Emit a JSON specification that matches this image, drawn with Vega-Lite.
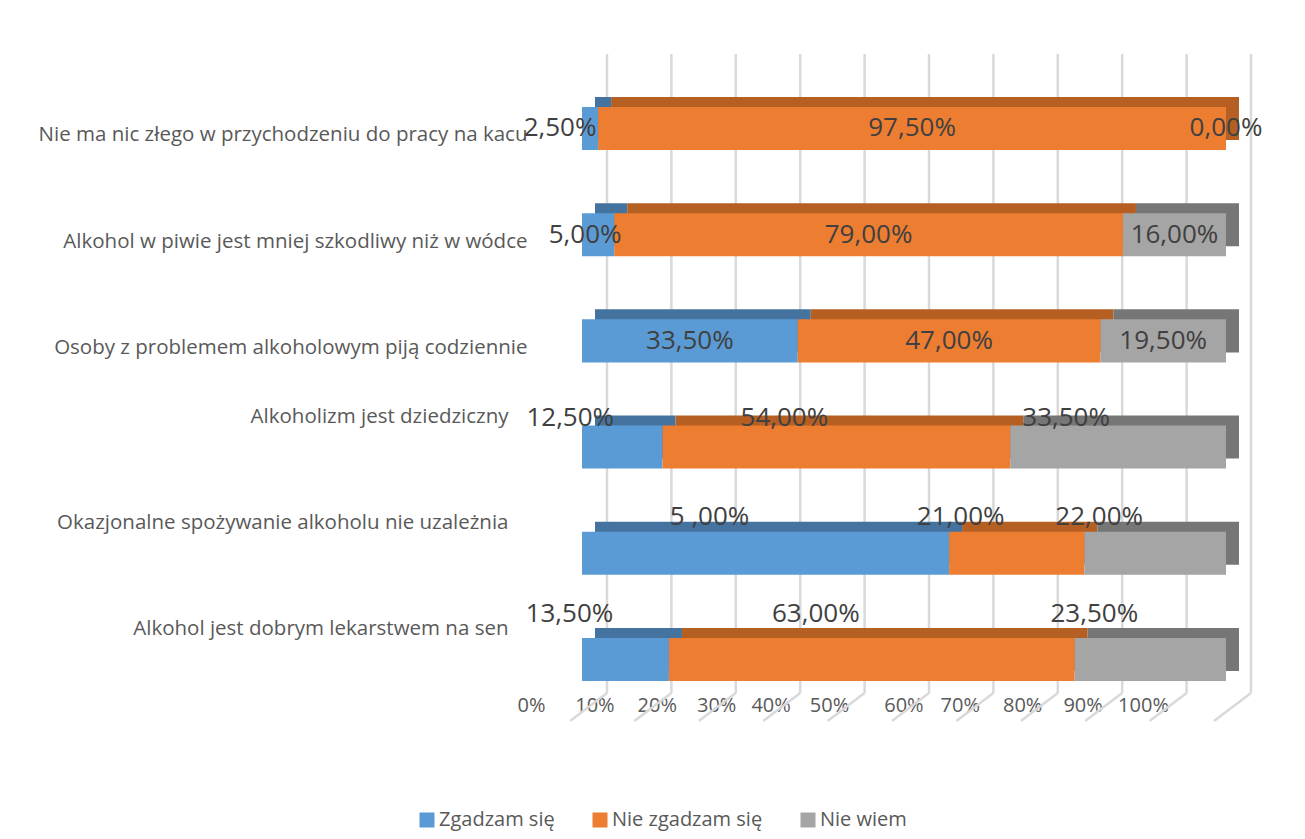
{
  "$schema": "https://vega.github.io/schema/vega-lite/v6.json",
  "autosize": "none",
  "padding": {"top": 54, "left": 582, "right": 79, "bottom": 146},
  "width": 644,
  "height": 639,
  "background": "white",
  "config": {
    "view": {"stroke": null},
    "font": "Open Sans",
    "axis": {"grid": false, "ticks": false, "domain": false, "labelColor": "#595959", "labelFontSize": 20, "labelFont": "Open Sans"},
    "text": {"fontSize": 26, "color": "#404040", "font": "Open Sans"}
  },
  "datasets": {
    "bars": [
      {"q": "Nie ma nic złego w przychodzeniu do pracy na kacu", "s": "Zgadzam się", "k": 1, "v": 2.5, "lab": "2,50%"},
      {"q": "Nie ma nic złego w przychodzeniu do pracy na kacu", "s": "Nie zgadzam się", "k": 2, "v": 97.5, "lab": "97,50%"},
      {"q": "Nie ma nic złego w przychodzeniu do pracy na kacu", "s": "Nie wiem", "k": 3, "v": 0, "lab": "0,00%"},
      {"q": "Alkohol w piwie jest mniej szkodliwy niż w wódce", "s": "Zgadzam się", "k": 1, "v": 5, "lab": "5,00%"},
      {"q": "Alkohol w piwie jest mniej szkodliwy niż w wódce", "s": "Nie zgadzam się", "k": 2, "v": 79, "lab": "79,00%"},
      {"q": "Alkohol w piwie jest mniej szkodliwy niż w wódce", "s": "Nie wiem", "k": 3, "v": 16, "lab": "16,00%"},
      {"q": "Osoby z problemem alkoholowym piją codziennie", "s": "Zgadzam się", "k": 1, "v": 33.5, "lab": "33,50%"},
      {"q": "Osoby z problemem alkoholowym piją codziennie", "s": "Nie zgadzam się", "k": 2, "v": 47, "lab": "47,00%"},
      {"q": "Osoby z problemem alkoholowym piją codziennie", "s": "Nie wiem", "k": 3, "v": 19.5, "lab": "19,50%"},
      {"q": "Alkoholizm jest dziedziczny", "s": "Zgadzam się", "k": 1, "v": 12.5, "lab": "12,50%"},
      {"q": "Alkoholizm jest dziedziczny", "s": "Nie zgadzam się", "k": 2, "v": 54, "lab": "54,00%"},
      {"q": "Alkoholizm jest dziedziczny", "s": "Nie wiem", "k": 3, "v": 33.5, "lab": "33,50%"},
      {"q": "Okazjonalne spożywanie alkoholu nie uzależnia", "s": "Zgadzam się", "k": 1, "v": 57, "lab": "5 ,00%"},
      {"q": "Okazjonalne spożywanie alkoholu nie uzależnia", "s": "Nie zgadzam się", "k": 2, "v": 21, "lab": "21,00%"},
      {"q": "Okazjonalne spożywanie alkoholu nie uzależnia", "s": "Nie wiem", "k": 3, "v": 22, "lab": "22,00%"},
      {"q": "Alkohol jest dobrym lekarstwem na sen", "s": "Zgadzam się", "k": 1, "v": 13.5, "lab": "13,50%"},
      {"q": "Alkohol jest dobrym lekarstwem na sen", "s": "Nie zgadzam się", "k": 2, "v": 63, "lab": "63,00%"},
      {"q": "Alkohol jest dobrym lekarstwem na sen", "s": "Nie wiem", "k": 3, "v": 23.5, "lab": "23,50%"}
    ],
    "grid": [{"v": 0}, {"v": 10}, {"v": 20}, {"v": 30}, {"v": 40}, {"v": 50}, {"v": 60}, {"v": 70}, {"v": 80}, {"v": 90}, {"v": 100}]
  },
  "layer": [
    {
      "data": {"name": "grid"},
      "mark": {"type": "rule", "color": "#D9D9D9", "strokeWidth": 2.5, "xOffset": 25},
      "encoding": {
        "x": {"field": "v", "type": "quantitative", "title": null, "scale": {"domain": [0, 100], "nice": false},
          "axis": {"values": [0, 10, 20, 30, 40, 50, 60, 70, 80, 90, 100], "labelExpr": "datum.value + '%'", "labelPadding": 2, "labelOverlap": false, "labelFlush": false,
            "labelOffset": {"condition": [
              {"test": "datum.value == 0", "value": -51},
              {"test": "datum.value == 10", "value": -52},
              {"test": "datum.value == 20", "value": -54},
              {"test": "datum.value == 30", "value": -59},
              {"test": "datum.value == 40", "value": -69},
              {"test": "datum.value == 50", "value": -75},
              {"test": "datum.value == 60", "value": -65},
              {"test": "datum.value == 70", "value": -73},
              {"test": "datum.value == 80", "value": -75},
              {"test": "datum.value == 90", "value": -79}
            ], "value": -83}}}
      }
    },
    {
      "data": {"name": "grid"},
      "mark": {"type": "rule", "color": "#D9D9D9", "strokeWidth": 2.5, "xOffset": 25, "x2Offset": -12},
      "encoding": {
        "x": {"field": "v", "type": "quantitative", "title": null},
        "x2": {"field": "v"},
        "y": {"value": {"expr": "height"}},
        "y2": {"value": {"expr": "height + 28"}}
      }
    },
    {
      "data": {"name": "bars"},
      "mark": {"type": "bar", "xOffset": 13, "x2Offset": 13, "yOffset": -10},
      "encoding": {
        "y": {"field": "q", "type": "nominal", "title": null, "sort": ["Nie ma nic złego w przychodzeniu do pracy na kacu", "Alkohol w piwie jest mniej szkodliwy niż w wódce", "Osoby z problemem alkoholowym piją codziennie", "Alkoholizm jest dziedziczny", "Okazjonalne spożywanie alkoholu nie uzależnia", "Alkohol jest dobrym lekarstwem na sen"],
          "scale": {"paddingInner": 0.595, "paddingOuter": 0.306, "align": 0.815}},
        "x": {"field": "v", "type": "quantitative", "stack": "zero", "title": null},
        "order": {"field": "k", "type": "quantitative"},
        "fill": {"field": "k", "type": "nominal", "legend": null,
          "scale": {"domain": [1, 2, 3], "range": ["#44739F", "#B65F22", "#767676"]}}
      }
    },
    {
      "data": {"name": "bars"},
      "mark": {"type": "bar"},
      "encoding": {
        "y": {"field": "q", "type": "nominal", "title": null, "sort": ["Nie ma nic złego w przychodzeniu do pracy na kacu", "Alkohol w piwie jest mniej szkodliwy niż w wódce", "Osoby z problemem alkoholowym piją codziennie", "Alkoholizm jest dziedziczny", "Okazjonalne spożywanie alkoholu nie uzależnia", "Alkohol jest dobrym lekarstwem na sen"],
          "axis": {
            "labelFontSize": 20.5,
            "labelOffset": {"condition": {"test": "indexof(['Alkoholizm jest dziedziczny','Okazjonalne spożywanie alkoholu nie uzależnia','Alkohol jest dobrym lekarstwem na sen'], datum.value) >= 0", "value": -30}, "value": 7},
            "labelPadding": {"condition": {"test": "indexof(['Alkoholizm jest dziedziczny','Okazjonalne spożywanie alkoholu nie uzależnia','Alkohol jest dobrym lekarstwem na sen'], datum.value) >= 0", "value": 74}, "value": 55},
            "labelLimit": 600
          }},
        "x": {"field": "v", "type": "quantitative", "stack": "zero", "title": null},
        "order": {"field": "k", "type": "quantitative"},
        "color": {"field": "s", "type": "nominal",
          "scale": {"domain": ["Zgadzam się", "Nie zgadzam się", "Nie wiem"], "range": ["#5B9BD5", "#ED7D31", "#A5A5A5"]},
          "legend": {"orient": "none", "legendX": -165, "legendY": 756, "direction": "horizontal", "title": null,
            "symbolType": "square", "symbolSize": 225, "symbolStrokeWidth": 0, "labelFontSize": 20, "labelColor": "#595959",
            "labelFont": "Open Sans", "columnPadding": 35, "labelOffset": 2, "padding": 0}}
      }
    },
    {
      "data": {"name": "bars"},
      "mark": {"type": "text"},
      "encoding": {
        "y": {"field": "q", "type": "nominal", "title": null, "sort": ["Nie ma nic złego w przychodzeniu do pracy na kacu", "Alkohol w piwie jest mniej szkodliwy niż w wódce", "Osoby z problemem alkoholowym piją codziennie", "Alkoholizm jest dziedziczny", "Okazjonalne spożywanie alkoholu nie uzależnia", "Alkohol jest dobrym lekarstwem na sen"]},
        "x": {"field": "v", "type": "quantitative", "stack": "zero", "bandPosition": 0.5, "title": null},
        "order": {"field": "k", "type": "quantitative"},
        "text": {"condition": {"test": "datum.q == 'Osoby z problemem alkoholowym piją codziennie' || (datum.k > 1 && (datum.q == 'Nie ma nic złego w przychodzeniu do pracy na kacu' || datum.q == 'Alkohol w piwie jest mniej szkodliwy niż w wódce'))", "field": "lab"}, "value": ""}
      }
    },
    {
      "data": {"name": "bars"},
      "mark": {"type": "text", "dx": -30},
      "encoding": {
        "y": {"field": "q", "type": "nominal", "title": null, "sort": ["Nie ma nic złego w przychodzeniu do pracy na kacu", "Alkohol w piwie jest mniej szkodliwy niż w wódce", "Osoby z problemem alkoholowym piją codziennie", "Alkoholizm jest dziedziczny", "Okazjonalne spożywanie alkoholu nie uzależnia", "Alkohol jest dobrym lekarstwem na sen"]},
        "x": {"field": "v", "type": "quantitative", "stack": "zero", "bandPosition": 0.5, "title": null},
        "order": {"field": "k", "type": "quantitative"},
        "text": {"condition": {"test": "datum.k == 1 && datum.q == 'Nie ma nic złego w przychodzeniu do pracy na kacu'", "field": "lab"}, "value": ""}
      }
    },
    {
      "data": {"name": "bars"},
      "mark": {"type": "text", "dx": -13},
      "encoding": {
        "y": {"field": "q", "type": "nominal", "title": null, "sort": ["Nie ma nic złego w przychodzeniu do pracy na kacu", "Alkohol w piwie jest mniej szkodliwy niż w wódce", "Osoby z problemem alkoholowym piją codziennie", "Alkoholizm jest dziedziczny", "Okazjonalne spożywanie alkoholu nie uzależnia", "Alkohol jest dobrym lekarstwem na sen"]},
        "x": {"field": "v", "type": "quantitative", "stack": "zero", "bandPosition": 0.5, "title": null},
        "order": {"field": "k", "type": "quantitative"},
        "text": {"condition": {"test": "datum.k == 1 && datum.q == 'Alkohol w piwie jest mniej szkodliwy niż w wódce'", "field": "lab"}, "value": ""}
      }
    },
    {
      "data": {"name": "bars"},
      "mark": {"type": "text", "dx": -52, "dy": -29},
      "encoding": {
        "y": {"field": "q", "type": "nominal", "title": null, "sort": ["Nie ma nic złego w przychodzeniu do pracy na kacu", "Alkohol w piwie jest mniej szkodliwy niż w wódce", "Osoby z problemem alkoholowym piją codziennie", "Alkoholizm jest dziedziczny", "Okazjonalne spożywanie alkoholu nie uzależnia", "Alkohol jest dobrym lekarstwem na sen"]},
        "x": {"field": "v", "type": "quantitative", "stack": "zero", "bandPosition": 0.5, "title": null},
        "order": {"field": "k", "type": "quantitative"},
        "text": {"condition": {"test": "datum.q == 'Alkoholizm jest dziedziczny'", "field": "lab"}, "value": ""}
      }
    },
    {
      "data": {"name": "bars"},
      "mark": {"type": "text", "dx": -56, "dy": -36},
      "encoding": {
        "y": {"field": "q", "type": "nominal", "title": null, "sort": ["Nie ma nic złego w przychodzeniu do pracy na kacu", "Alkohol w piwie jest mniej szkodliwy niż w wódce", "Osoby z problemem alkoholowym piją codziennie", "Alkoholizm jest dziedziczny", "Okazjonalne spożywanie alkoholu nie uzależnia", "Alkohol jest dobrym lekarstwem na sen"]},
        "x": {"field": "v", "type": "quantitative", "stack": "zero", "bandPosition": 0.5, "title": null},
        "order": {"field": "k", "type": "quantitative"},
        "text": {"condition": {"test": "datum.q == 'Okazjonalne spożywanie alkoholu nie uzależnia'", "field": "lab"}, "value": ""}
      }
    },
    {
      "data": {"name": "bars"},
      "mark": {"type": "text", "dx": -56, "dy": -45},
      "encoding": {
        "y": {"field": "q", "type": "nominal", "title": null, "sort": ["Nie ma nic złego w przychodzeniu do pracy na kacu", "Alkohol w piwie jest mniej szkodliwy niż w wódce", "Osoby z problemem alkoholowym piją codziennie", "Alkoholizm jest dziedziczny", "Okazjonalne spożywanie alkoholu nie uzależnia", "Alkohol jest dobrym lekarstwem na sen"]},
        "x": {"field": "v", "type": "quantitative", "stack": "zero", "bandPosition": 0.5, "title": null},
        "order": {"field": "k", "type": "quantitative"},
        "text": {"condition": {"test": "datum.q == 'Alkohol jest dobrym lekarstwem na sen'", "field": "lab"}, "value": ""}
      }
    }
  ]
}
